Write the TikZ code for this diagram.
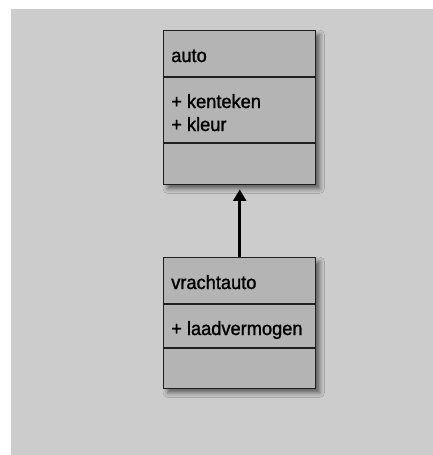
\documentclass[tikz,border=0pt]{standalone}
\usepackage{fontspec}
\setmainfont{Liberation Sans}
\newfontfamily\umlfont[FakeBold=1.3, FakeStretch=0.95]{Liberation Sans}
\usetikzlibrary{shadows.blur,arrows.meta}
\definecolor{canvas}{gray}{0.80}
\definecolor{boxfill}{gray}{0.705}
\definecolor{edge}{gray}{0.12}
\tikzset{
  classbox/.style={draw=edge, fill=boxfill, line width=1.1pt, inner sep=0pt,
    anchor=north west, minimum width=114pt,
    blur shadow={shadow xshift=3pt, shadow yshift=-3pt, shadow blur radius=3.5pt, shadow opacity=55}},
  divider/.style={draw=edge, line width=1.1pt},
  member/.style={anchor=base west, inner sep=0pt, text=black,
    font=\umlfont\fontsize{14.4pt}{16pt}\selectfont},
  inherit/.style={draw=black, line width=2pt, -{Triangle[length=8.5pt, width=9.5pt]}},
}
\begin{document}
\begin{tikzpicture}[x=0.75pt, y=-0.75pt]
  \useasboundingbox (0,0) rectangle (433,455);
  \fill[canvas] (11,9) rectangle (433,455);

  % class "auto"
  \node[classbox, minimum height=115.5pt] (auto) at (163,30) {};
  \draw[divider] (163,77) -- (315,77);
  \draw[divider] (163,143) -- (315,143);
  \node[member] (autoname) at (171,62) {auto};
  \node[member] (kenteken) at (171,108) {+ kenteken};
  \node[member] (kleur) at (171,131) {+ kleur};

  % class "vrachtauto"
  \node[classbox, minimum height=98.25pt] (vracht) at (163,257) {};
  \draw[divider] (163,304) -- (315,304);
  \draw[divider] (163,348) -- (315,348);
  \node[member] (vrachtname) at (171,289) {vrachtauto};
  \node[member] (laad) at (171,335) {+ laadvermogen};

  % generalisation
  \draw[inherit] (vracht.north) -- ([yshift=-3pt]auto.south);
\end{tikzpicture}
\end{document}
